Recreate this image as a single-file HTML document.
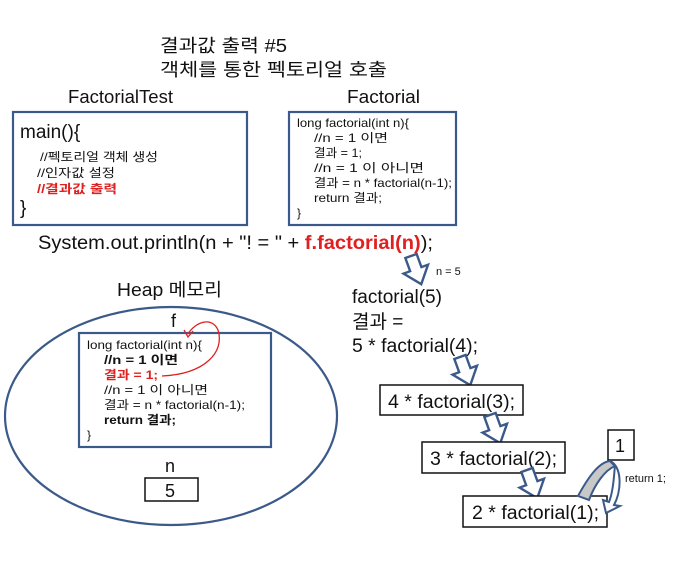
<!DOCTYPE html>
<html><head><meta charset="utf-8"><style>
html,body{margin:0;padding:0;background:#fff;}
svg{display:block;}
text{font-family:"Liberation Sans","Noto Sans CJK KR",sans-serif;fill:#111;}
</style></head><body>
<svg width="680" height="580" viewBox="0 0 680 580" xmlns="http://www.w3.org/2000/svg">
<defs>
<g id="arr"><path d="M-6,0 L6,0 L6,14 L13,14 L0,30 L-13,14 L-6,14 Z" fill="#fff" stroke="#3b5a8a" stroke-width="2.4" stroke-linejoin="miter"/></g>
</defs>
<text x="160" y="52" font-size="18" textLength="127" lengthAdjust="spacingAndGlyphs">결과값 출력 #5</text>
<text x="160" y="76" font-size="18" textLength="227" lengthAdjust="spacingAndGlyphs">객체를 통한 펙토리얼 호출</text>

<text x="68" y="103" font-size="18" textLength="105" lengthAdjust="spacingAndGlyphs">FactorialTest</text>
<text x="347" y="103" font-size="18" textLength="73" lengthAdjust="spacingAndGlyphs">Factorial</text>

<rect x="13" y="112" width="234" height="113" fill="none" stroke="#3b5a8a" stroke-width="2.2"/>
<text x="20" y="138" font-size="19">main(){</text>
<text x="40" y="161" font-size="12" textLength="118" lengthAdjust="spacingAndGlyphs">//펙토리얼 객체 생성</text>
<text x="37" y="177" font-size="12" textLength="78" lengthAdjust="spacingAndGlyphs">//인자값 설정</text>
<text x="37" y="193" font-size="12" font-weight="bold" style="fill:#e02020" textLength="80" lengthAdjust="spacingAndGlyphs">//결과값 출력</text>
<text x="20" y="214" font-size="19">}</text>

<rect x="289" y="112" width="167" height="113" fill="none" stroke="#3b5a8a" stroke-width="2.2"/>
<text x="297" y="127" font-size="12" textLength="112" lengthAdjust="spacingAndGlyphs">long factorial(int n){</text>
<text x="314" y="142" font-size="12" textLength="74" lengthAdjust="spacingAndGlyphs">//n = 1 이면</text>
<text x="314" y="157" font-size="12" textLength="48" lengthAdjust="spacingAndGlyphs">결과 = 1;</text>
<text x="314" y="172" font-size="12" textLength="110" lengthAdjust="spacingAndGlyphs">//n = 1 이 아니면</text>
<text x="314" y="187" font-size="12" textLength="138" lengthAdjust="spacingAndGlyphs">결과 = n * factorial(n-1);</text>
<text x="314" y="202" font-size="12" textLength="68" lengthAdjust="spacingAndGlyphs">return 결과;</text>
<text x="297" y="217" font-size="12">}</text>

<text x="38" y="249" font-size="19" textLength="395" lengthAdjust="spacingAndGlyphs">System.out.println(n + "! = " + <tspan font-weight="bold" style="fill:#e02020">f.factorial(n)</tspan>);</text>

<text x="117" y="296" font-size="18" textLength="105" lengthAdjust="spacingAndGlyphs">Heap 메모리</text>
<ellipse cx="171" cy="416" rx="166" ry="109" fill="none" stroke="#3b5a8a" stroke-width="2.2"/>
<text x="171" y="327" font-size="18">f</text>
<rect x="79" y="333" width="192" height="114" fill="none" stroke="#3b5a8a" stroke-width="2.2"/>
<text x="87" y="349" font-size="12" textLength="115" lengthAdjust="spacingAndGlyphs">long factorial(int n){</text>
<text x="104" y="364" font-size="12" font-weight="bold" textLength="74" lengthAdjust="spacingAndGlyphs">//n = 1 이면</text>
<text x="104" y="379" font-size="12" font-weight="bold" style="fill:#e02020" textLength="54" lengthAdjust="spacingAndGlyphs">결과 = 1;</text>
<text x="104" y="394" font-size="12" textLength="104" lengthAdjust="spacingAndGlyphs">//n = 1 이 아니면</text>
<text x="104" y="409" font-size="12" textLength="141" lengthAdjust="spacingAndGlyphs">결과 = n * factorial(n-1);</text>
<text x="104" y="424" font-size="12" font-weight="bold" textLength="72" lengthAdjust="spacingAndGlyphs">return 결과;</text>
<text x="87" y="439" font-size="12">}</text>
<path d="M162,376 C205,374 225,352 218,330 C212,316 195,322 188,334" fill="none" stroke="#e02020" stroke-width="1.3"/>
<path d="M184,330 L188,337 L193,331" fill="none" stroke="#e02020" stroke-width="1.3"/>
<text x="165" y="472" font-size="18">n</text>
<rect x="145" y="478" width="53" height="23" fill="none" stroke="#111" stroke-width="1.5"/>
<text x="165" y="497" font-size="18">5</text>

<use href="#arr" transform="translate(411,256) rotate(-20)"/>
<text x="436" y="275" font-size="11">n = 5</text>
<text x="352" y="303" font-size="19" textLength="90" lengthAdjust="spacingAndGlyphs">factorial(5)</text>
<text x="352" y="328" font-size="19">결과 =</text>
<text x="352" y="352" font-size="19" textLength="126" lengthAdjust="spacingAndGlyphs">5 * factorial(4);</text>
<use href="#arr" transform="translate(460,357) rotate(-20)"/>
<rect x="380" y="385" width="143" height="30" fill="#fff" stroke="#111" stroke-width="1.5"/>
<text x="388" y="408" font-size="19" textLength="127" lengthAdjust="spacingAndGlyphs">4 * factorial(3);</text>
<use href="#arr" transform="translate(490,415) rotate(-20)"/>
<rect x="422" y="442" width="143" height="31" fill="#fff" stroke="#111" stroke-width="1.5"/>
<text x="430" y="465" font-size="19" textLength="127" lengthAdjust="spacingAndGlyphs">3 * factorial(2);</text>
<use href="#arr" transform="translate(527,470) rotate(-20)"/>
<rect x="463" y="496" width="144" height="31" fill="#fff" stroke="#111" stroke-width="1.5"/>
<text x="472" y="519" font-size="19" textLength="127" lengthAdjust="spacingAndGlyphs">2 * factorial(1);</text>

<rect x="608" y="430" width="26" height="30" fill="#fff" stroke="#111" stroke-width="1.5"/>
<text x="615" y="452" font-size="18">1</text>
<path d="M578,496 C590,474 600,462 610,461 L615,466 C605,470 595,484 589,500 Z" fill="#c8c8c8" stroke="#3b5a8a" stroke-width="2"/>
<path d="M610,461 C622,466 622,490 614,505 L620,506 L606,513 L603,500 L609,502 C614,490 614,472 615,466 Z" fill="#fff" stroke="#3b5a8a" stroke-width="2"/>
<text x="625" y="482" font-size="11">return 1;</text>
</svg>
</body></html>
